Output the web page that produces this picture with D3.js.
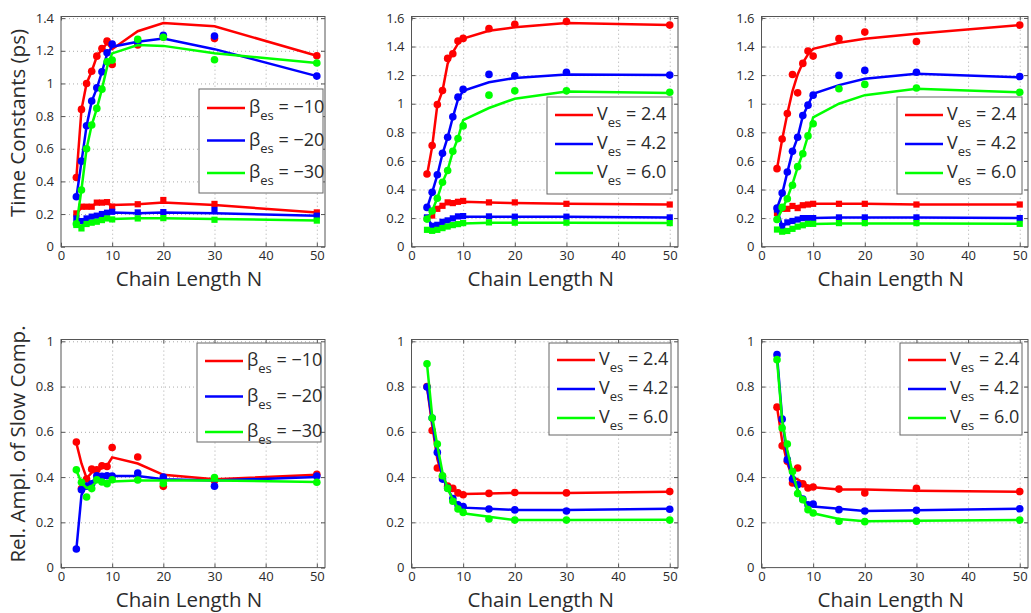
<!DOCTYPE html>
<html>
<head>
<meta charset="utf-8">
<script src="https://cdnjs.cloudflare.com/ajax/libs/d3/7.8.5/d3.min.js"></script>
<style>
  body { margin: 0; background: #fff; }
  svg { display: block; }
  text { font-family: "Open Sans", sans-serif; fill: #2b2b2b; }
</style>
</head>
<body>
<svg id="chart" width="1031" height="613"></svg>
<script>
// ------------------
// Data
// ------------------
const chainN = [3, 4, 5, 6, 7, 8, 9, 10, 15, 20, 30, 50]
const seriesColors = ['#ff0000', '#0000ff', '#00ff00']
const betaLabels = ['\u221210', '\u221220', '\u221230']
const vesLabels = ['2.4', '4.2', '6.0']
const xTicks = [0, 10, 20, 30, 40, 50]
const yTicksTauA = [0, 0.2, 0.4, 0.6, 0.8, 1, 1.2, 1.4]
const yTicksTauBC = [0, 0.2, 0.4, 0.6, 0.8, 1, 1.2, 1.4, 1.6]
const yTicksAmp = [0, 0.2, 0.4, 0.6, 0.8, 1]

// beta_es panel: time constants (slow = circles, fast = squares)
const tauA_slowPts = [
  [0.424, 0.841, 1.0, 1.075, 1.167, 1.214, 1.259, 1.116, 1.235, 1.285, 1.275, 1.17],
  [0.306, 0.524, 0.741, 0.892, 0.973, 1.071, 1.188, 1.241, 1.255, 1.295, 1.29, 1.045],
  [0.14, 0.347, 0.6, 0.745, 0.847, 0.965, 1.133, 1.143, 1.27, 1.283, 1.145, 1.125]
]
const tauA_slowFit = [
  [0.42, 0.84, 1.0, 1.075, 1.165, 1.21, 1.245, 1.21, 1.32, 1.37, 1.35, 1.17],
  [0.30, 0.52, 0.74, 0.89, 0.97, 1.07, 1.18, 1.225, 1.255, 1.275, 1.21, 1.045],
  [0.13, 0.35, 0.60, 0.745, 0.845, 0.965, 1.10, 1.184, 1.235, 1.23, 1.185, 1.125]
]
const tauA_fastPts = [
  [0.204, 0.245, 0.245, 0.245, 0.27, 0.27, 0.273, 0.245, 0.26, 0.286, 0.262, 0.21],
  [0.173, 0.157, 0.173, 0.184, 0.19, 0.2, 0.208, 0.214, 0.21, 0.212, 0.225, 0.19],
  [0.133, 0.112, 0.139, 0.147, 0.153, 0.163, 0.173, 0.167, 0.173, 0.175, 0.165, 0.16]
]
const tauA_fastFit = [
  [0.20, 0.24, 0.245, 0.25, 0.265, 0.265, 0.265, 0.255, 0.26, 0.27, 0.255, 0.21],
  [0.17, 0.16, 0.17, 0.18, 0.19, 0.2, 0.205, 0.21, 0.205, 0.21, 0.205, 0.19],
  [0.13, 0.13, 0.14, 0.148, 0.155, 0.16, 0.17, 0.17, 0.175, 0.175, 0.17, 0.16]
]

// V_es panel (middle column)
const tauB_slowPts = [
  [0.508, 0.707, 0.994, 1.092, 1.317, 1.35, 1.438, 1.457, 1.525, 1.555, 1.575, 1.55],
  [0.275, 0.38, 0.503, 0.653, 0.765, 0.908, 1.046, 1.1, 1.205, 1.195, 1.22, 1.2],
  [0.193, 0.25, 0.339, 0.451, 0.533, 0.667, 0.756, 0.845, 1.06, 1.09, 1.09, 1.08]
]
const tauB_slowFit = [
  [0.5, 0.7, 0.99, 1.09, 1.28, 1.36, 1.42, 1.455, 1.51, 1.535, 1.565, 1.55],
  [0.27, 0.38, 0.5, 0.65, 0.765, 0.905, 1.03, 1.09, 1.15, 1.18, 1.205, 1.2],
  [0.19, 0.25, 0.34, 0.45, 0.535, 0.665, 0.76, 0.885, 0.97, 1.035, 1.085, 1.075]
]
const tauB_fastPts = [
  [0.2, 0.218, 0.265, 0.286, 0.31, 0.305, 0.314, 0.32, 0.31, 0.31, 0.3, 0.295],
  [0.205, 0.146, 0.153, 0.174, 0.184, 0.198, 0.212, 0.214, 0.212, 0.21, 0.21, 0.205],
  [0.118, 0.111, 0.118, 0.13, 0.141, 0.151, 0.158, 0.165, 0.17, 0.168, 0.168, 0.165]
]
const tauB_fastFit = [
  [0.2, 0.24, 0.27, 0.29, 0.305, 0.305, 0.31, 0.315, 0.31, 0.305, 0.3, 0.295],
  [0.2, 0.15, 0.155, 0.17, 0.18, 0.195, 0.205, 0.21, 0.21, 0.21, 0.21, 0.205],
  [0.12, 0.112, 0.12, 0.13, 0.14, 0.15, 0.158, 0.163, 0.168, 0.168, 0.168, 0.165]
]

// V_es panel (right column)
const tauC_slowPts = [
  [0.546, 0.753, 0.931, 1.204, 1.076, 1.282, 1.368, 1.333, 1.455, 1.501, 1.435, 1.55],
  [0.27, 0.375, 0.522, 0.667, 0.765, 0.917, 0.99, 1.06, 1.198, 1.233, 1.22, 1.19],
  [0.19, 0.275, 0.335, 0.43, 0.56, 0.65, 0.775, 0.86, 1.105, 1.135, 1.11, 1.08]
]
const tauC_slowFit = [
  [0.545, 0.75, 0.93, 1.088, 1.205, 1.286, 1.345, 1.384, 1.427, 1.455, 1.49, 1.55],
  [0.27, 0.37, 0.52, 0.665, 0.765, 0.915, 0.99, 1.07, 1.13, 1.175, 1.21, 1.185],
  [0.19, 0.26, 0.34, 0.44, 0.555, 0.655, 0.775, 0.905, 1.0, 1.06, 1.105, 1.08]
]
const tauC_fastPts = [
  [0.235, 0.265, 0.265, 0.285, 0.27, 0.29, 0.295, 0.3, 0.3, 0.3, 0.295, 0.295],
  [0.26, 0.145, 0.17, 0.18, 0.19, 0.2, 0.2, 0.2, 0.205, 0.205, 0.205, 0.2],
  [0.12, 0.105, 0.11, 0.125, 0.14, 0.15, 0.16, 0.16, 0.165, 0.165, 0.165, 0.16]
]
const tauC_fastFit = [
  [0.24, 0.26, 0.27, 0.28, 0.285, 0.29, 0.295, 0.3, 0.3, 0.3, 0.295, 0.295],
  [0.26, 0.145, 0.165, 0.175, 0.185, 0.195, 0.2, 0.2, 0.205, 0.205, 0.205, 0.2],
  [0.12, 0.11, 0.112, 0.125, 0.138, 0.148, 0.155, 0.158, 0.163, 0.163, 0.163, 0.16]
]

// relative amplitude of slow component
const ampA_pts = [
  [0.555, 0.349, 0.391, 0.435, 0.432, 0.45, 0.447, 0.531, 0.489, 0.359, 0.385, 0.412],
  [0.082, 0.344, 0.36, 0.37, 0.406, 0.403, 0.406, 0.405, 0.418, 0.4, 0.36, 0.405],
  [0.432, 0.377, 0.312, 0.349, 0.388, 0.378, 0.371, 0.388, 0.387, 0.372, 0.398, 0.377]
]
const ampA_fit = [
  [0.55, 0.46, 0.395, 0.42, 0.425, 0.44, 0.45, 0.487, 0.46, 0.41, 0.39, 0.41],
  [0.08, 0.32, 0.365, 0.375, 0.405, 0.405, 0.405, 0.405, 0.405, 0.39, 0.385, 0.4],
  [0.43, 0.375, 0.352, 0.36, 0.38, 0.38, 0.38, 0.38, 0.385, 0.385, 0.385, 0.378]
]
const ampB_pts = [
  [0.8, 0.606, 0.44, 0.403, 0.36, 0.35, 0.33, 0.322, 0.328, 0.332, 0.33, 0.336],
  [0.798, 0.661, 0.509, 0.391, 0.352, 0.305, 0.278, 0.27, 0.259, 0.255, 0.25, 0.258],
  [0.901, 0.661, 0.546, 0.406, 0.35, 0.293, 0.259, 0.244, 0.215, 0.21, 0.21, 0.21]
]
const ampB_fit = [
  [0.8, 0.63, 0.48, 0.4, 0.36, 0.345, 0.33, 0.325, 0.327, 0.33, 0.33, 0.335],
  [0.8, 0.65, 0.5, 0.4, 0.35, 0.305, 0.28, 0.265, 0.26, 0.255, 0.255, 0.26],
  [0.9, 0.67, 0.54, 0.42, 0.35, 0.3, 0.265, 0.24, 0.225, 0.21, 0.21, 0.212]
]
const ampC_pts = [
  [0.709, 0.538, 0.47, 0.374, 0.44, 0.37, 0.352, 0.356, 0.347, 0.33, 0.35, 0.336],
  [0.941, 0.656, 0.477, 0.391, 0.366, 0.303, 0.278, 0.281, 0.256, 0.25, 0.253, 0.26],
  [0.919, 0.617, 0.546, 0.425, 0.327, 0.3, 0.256, 0.241, 0.205, 0.203, 0.205, 0.21]
]
const ampC_fit = [
  [0.71, 0.56, 0.46, 0.4, 0.39, 0.375, 0.36, 0.355, 0.345, 0.345, 0.34, 0.335],
  [0.94, 0.66, 0.48, 0.39, 0.345, 0.3, 0.28, 0.27, 0.26, 0.25, 0.253, 0.26],
  [0.92, 0.65, 0.52, 0.42, 0.34, 0.3, 0.26, 0.24, 0.215, 0.205, 0.207, 0.21]
]

// ------------------
// Layout
// ------------------
const svg = d3.select('#chart')
const xMax = 51.6
const topRow = { top: 16.5, bottom: 246.7 }
const botRow = { top: 339.5, bottom: 567.6 }
const cols = [{ left: 61, right: 325 }, { left: 411.5, right: 678 }, { left: 761.5, right: 1028 }]

const panels = [
  { col: 0, row: topRow, ymax: 1.41, yTicks: yTicksTauA, slowPts: tauA_slowPts, slowFit: tauA_slowFit, fastPts: tauA_fastPts, fastFit: tauA_fastFit,
    legend: { x: 199, y: 89, w: 124, h: 104, rows: [108, 140.5, 173], sym: 'β', labels: betaLabels } },
  { col: 1, row: topRow, ymax: 1.61, yTicks: yTicksTauBC, slowPts: tauB_slowPts, slowFit: tauB_slowFit, fastPts: tauB_fastPts, fastFit: tauB_fastFit,
    legend: { x: 547, y: 97, w: 125, h: 97, rows: [115, 144, 173], sym: 'V', labels: vesLabels } },
  { col: 2, row: topRow, ymax: 1.61, yTicks: yTicksTauBC, slowPts: tauC_slowPts, slowFit: tauC_slowFit, fastPts: tauC_fastPts, fastFit: tauC_fastFit,
    legend: { x: 897, y: 97, w: 125, h: 97, rows: [115, 144, 173], sym: 'V', labels: vesLabels } },
  { col: 0, row: botRow, ymax: 1.008, yTicks: yTicksAmp, slowPts: ampA_pts, slowFit: ampA_fit,
    legend: { x: 197, y: 343, w: 124, h: 99, rows: [361, 396.5, 432], sym: 'β', labels: betaLabels } },
  { col: 1, row: botRow, ymax: 1.008, yTicks: yTicksAmp, slowPts: ampB_pts, slowFit: ampB_fit,
    legend: { x: 549, y: 343, w: 122, h: 92, rows: [360, 389, 418], sym: 'V', labels: vesLabels } },
  { col: 2, row: botRow, ymax: 1.008, yTicks: yTicksAmp, slowPts: ampC_pts, slowFit: ampC_fit,
    legend: { x: 900, y: 343, w: 122, h: 92, rows: [360, 389, 418], sym: 'V', labels: vesLabels } }
]

function styleGrid(sel) {
  sel.select('.domain').remove()
  sel.selectAll('line').attr('stroke', '#aaa').attr('stroke-dasharray', '1,3')
}

function styleTicks(sel) {
  sel.select('.domain').remove()
  sel.selectAll('line').attr('stroke', '#555')
  sel.selectAll('text').attr('font-size', 13).attr('fill', '#2b2b2b')
    .style('font-family', '"Open Sans", sans-serif')
}

function drawPanel(p) {
  const c = cols[p.col]
  const x = d3.scaleLinear().domain([0, xMax]).range([c.left, c.right])
  const y = d3.scaleLinear().domain([0, p.ymax]).range([p.row.bottom, p.row.top])
  const h = p.row.bottom - p.row.top
  const w = c.right - c.left
  const g = svg.append('g')

  // grid
  g.append('g').attr('transform', `translate(0,${p.row.bottom})`)
    .call(d3.axisBottom(x).tickValues(xTicks.slice(1)).tickSize(-h).tickFormat(''))
    .call(styleGrid)
  g.append('g').attr('transform', `translate(${c.left},0)`)
    .call(d3.axisLeft(y).tickValues(p.yTicks.slice(1)).tickSize(-w).tickFormat(''))
    .call(styleGrid)

  // axes (ticks inside, MATLAB box style)
  g.append('g').attr('transform', `translate(0,${p.row.bottom})`)
    .call(d3.axisBottom(x).tickValues(xTicks).tickSize(-4).tickPadding(4).tickFormat(d => String(d)))
    .call(styleTicks)
  g.append('g').attr('transform', `translate(${c.left},0)`)
    .call(d3.axisLeft(y).tickValues(p.yTicks).tickSize(-4).tickPadding(7).tickFormat(d => String(d)))
    .call(styleTicks)
  g.append('g').attr('transform', `translate(0,${p.row.top})`)
    .call(d3.axisTop(x).tickValues(xTicks).tickSize(-4).tickFormat(''))
    .call(styleTicks)
  g.append('g').attr('transform', `translate(${c.right},0)`)
    .call(d3.axisRight(y).tickValues(p.yTicks).tickSize(-4).tickFormat(''))
    .call(styleTicks)

  g.append('rect')
    .attr('x', c.left).attr('y', p.row.top)
    .attr('width', w).attr('height', h)
    .attr('fill', 'none').attr('stroke', '#555').attr('stroke-width', 1)

  const line = d3.line().x((d, i) => x(chainN[i])).y(d => y(d))

  seriesColors.forEach((col, k) => {
    g.append('path').datum(p.slowFit[k])
      .attr('d', line).attr('fill', 'none').attr('stroke', col).attr('stroke-width', 2.5)
    g.selectAll(null).data(p.slowPts[k]).enter().append('circle')
      .attr('cx', (d, i) => x(chainN[i])).attr('cy', d => y(d))
      .attr('r', 3.8).attr('fill', col)
    if (p.fastFit) {
      g.append('path').datum(p.fastFit[k])
        .attr('d', line).attr('fill', 'none').attr('stroke', col).attr('stroke-width', 2.5)
      g.selectAll(null).data(p.fastPts[k]).enter().append('rect')
        .attr('x', (d, i) => x(chainN[i]) - 3.1).attr('y', d => y(d) - 3.1)
        .attr('width', 6.2).attr('height', 6.2).attr('fill', col)
    }
  })

  // legend
  const L = p.legend
  const lg = svg.append('g')
  lg.append('rect').attr('x', L.x).attr('y', L.y).attr('width', L.w).attr('height', L.h)
    .attr('fill', '#fff').attr('stroke', '#666').attr('stroke-width', 1)
  L.rows.forEach((ry, k) => {
    lg.append('line').attr('x1', L.x + 8).attr('x2', L.x + 46).attr('y1', ry).attr('y2', ry)
      .attr('stroke', seriesColors[k]).attr('stroke-width', 2.5)
    const t = lg.append('text').attr('x', L.x + 50).attr('y', ry + 5).attr('font-size', 18)
    t.append('tspan').text(L.sym)
    t.append('tspan').attr('font-size', 13).attr('dy', 7).text('es')
    t.append('tspan').attr('dy', -7).text(' = ' + L.labels[k])
  })

  // x label
  svg.append('text').attr('x', (c.left + c.right) / 2 - 4)
    .attr('y', p.row === topRow ? 286 : 607)
    .attr('text-anchor', 'middle').attr('font-size', 20.5)
    .text('Chain Length N')
}

panels.forEach(drawPanel)

svg.append('text').attr('transform', 'translate(25,123) rotate(-90)')
  .attr('text-anchor', 'middle').attr('font-size', 20.5).text('Time Constants (ps)')
svg.append('text').attr('transform', 'translate(25,444) rotate(-90)')
  .attr('text-anchor', 'middle').attr('font-size', 20.5).text('Rel. Ampl. of Slow Comp.')
</script>
</body>
</html>
